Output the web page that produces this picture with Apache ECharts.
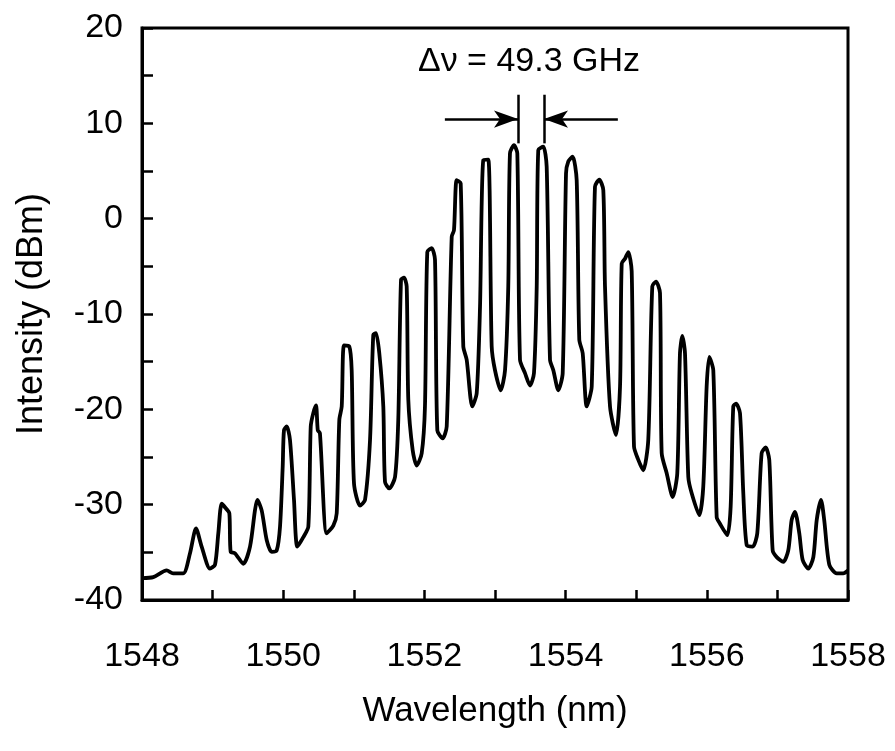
<!DOCTYPE html>
<html>
<head>
<meta charset="utf-8">
<script src="https://cdn.jsdelivr.net/npm/echarts@6/dist/echarts.min.js"></script>
<style>
html,body{margin:0;padding:0;background:#fff;}
#chart{width:895px;height:751px;}
</style>
</head>
<body>
<div id="chart"></div>
<script>
// Wavelength (nm)
const wavelength = [
1548.00,1548.16,1548.35,1548.44,1548.585,1548.68,1548.765,1548.845,1548.963,1549.034,
1549.081,1549.129,1549.19,1549.237,1549.256,1549.317,1549.435,1549.53,1549.60,1549.633,
1549.695,1549.766,1549.837,1549.908,1549.955,1549.993,1550.011,1550.05,1550.096,1550.153,
1550.20,1550.285,1550.356,1550.39,1550.426,1550.465,1550.49,1550.52,1550.616,1550.71,
1550.758,1550.795,1550.829,1550.861,1550.936,1550.97,1551.003,1551.088,1551.159,1551.23,
1551.276,1551.314,1551.361,1551.418,1551.442,1551.503,1551.584,1551.63,1551.669,1551.711,
1551.749,1551.772,1551.834,1551.891,1551.962,1552.008,1552.041,1552.103,1552.15,1552.183,
1552.259,1552.316,1552.387,1552.419,1552.457,1552.514,1552.551,1552.599,1552.678,1552.741,
1552.788,1552.834,1552.905,1552.953,1553.00,1553.081,1553.142,1553.188,1553.212,1553.269,
1553.316,1553.354,1553.425,1553.496,1553.552,1553.591,1553.613,1553.684,1553.732,1553.779,
1553.826,1553.897,1553.959,1554.006,1554.038,1554.10,1554.157,1554.194,1554.242,1554.299,
1554.37,1554.416,1554.477,1554.534,1554.558,1554.629,1554.714,1554.771,1554.795,1554.841,
1554.888,1554.936,1554.969,1555.03,1555.10,1555.171,1555.228,1555.28,1555.337,1555.361,
1555.432,1555.517,1555.582,1555.62,1555.653,1555.691,1555.738,1555.786,1555.894,1555.95,
1555.998,1556.035,1556.092,1556.14,1556.187,1556.29,1556.338,1556.375,1556.414,1556.47,
1556.517,1556.565,1556.65,1556.715,1556.777,1556.834,1556.885,1556.933,1556.99,1557.083,
1557.154,1557.202,1557.249,1557.31,1557.358,1557.438,1557.509,1557.557,1557.618,1557.663,
1557.735,1557.84,1557.933,1558.00
];
// Intensity (dBm)
const intensity = [
-37.7,-37.6,-36.9,-37.2,-37.2,-35.1,-32.5,-34.4,-36.7,-36.3,
-33.0,-29.9,-30.4,-30.9,-34.95,-35.1,-36.2,-34.4,-30.6,-29.5,
-30.6,-33.7,-34.95,-34.8,-32.3,-26.0,-22.2,-21.8,-23.2,-29.5,
-34.4,-33.4,-32.3,-21.8,-20.4,-19.6,-22.2,-22.5,-33.0,-32.2,
-30.9,-21.1,-19.7,-13.3,-13.4,-15.9,-27.8,-30.1,-29.5,-23.2,
-12.2,-12.0,-14.1,-19.7,-27.6,-28.3,-27.1,-21.1,-6.4,-6.2,
-7.1,-19.0,-24.3,-25.9,-24.6,-19.7,-3.5,-3.1,-4.3,-22.2,
-23.05,-21.8,-1.9,-1.2,4.05,3.7,-13.4,-14.8,-19.7,-18.3,
-9.2,6.15,6.2,-13.4,-15.9,-18.0,-15.9,-7.1,6.85,7.7,
6.85,-14.8,-16.2,-17.5,-16.2,-7.1,7.2,7.55,5.45,-14.8,
-15.9,-18.0,-16.2,4.75,6.0,6.5,4.05,-12.7,-14.1,-19.7,
-17.6,3.35,4.1,3.0,-7.1,-19.7,-22.7,-17.6,-4.7,-4.2,
-3.5,-5.5,-23.9,-25.3,-26.4,-23.2,-7.1,-6.6,-7.8,-24.6,
-26.7,-29.2,-26.7,-14.1,-12.3,-14.1,-27.1,-28.8,-31.1,-28.1,
-17.6,-14.5,-15.9,-31.3,-32.0,-33.2,-30.2,-19.7,-19.4,-20.4,
-28.8,-34.25,-34.4,-33.0,-24.6,-24.0,-25.3,-34.8,-35.5,-36.0,
-34.8,-31.6,-30.75,-33.0,-35.8,-36.7,-35.5,-31.6,-29.5,-31.6,
-36.3,-37.2,-37.2,-36.9
];
// Annotation: mode spacing markers
const markerX = [1553.326, 1553.694];
const markerY = [7.9, 13.0];
const arrowY = 10.45;
const arrowFrom = [1552.29, 1554.74];
const annotationText = 'Δν = 49.3 GHz';
const xTicks = [1548, 1550, 1552, 1554, 1556, 1558];
const yTicks = [-40, -30, -20, -10, 0, 10, 20];

const FONT = '"Liberation Sans", Arial, Helvetica, sans-serif';
const chart = echarts.init(document.getElementById('chart'));
const data = wavelength.map((w, i) => [w, intensity[i]]);

chart.setOption({
  animation: false,
  backgroundColor: '#fff',
  grid: { left: 142, right: 47, top: 28, bottom: 151, show: true, borderColor: '#000', borderWidth: 3 },
  xAxis: {
    type: 'value', min: 1548, max: 1558, interval: 1,
    name: 'Wavelength (nm)', nameLocation: 'middle', nameGap: 94,
    nameTextStyle: { fontFamily: FONT, fontSize: 35, color: '#000' },
    axisLine: { show: true, onZero: false, lineStyle: { color: '#000', width: 3 } },
    axisTick: { show: true, inside: true, length: 10, lineStyle: { color: '#000', width: 2.5 } },
    axisLabel: {
      margin: 40, fontFamily: FONT, fontSize: 34, color: '#000',
      formatter: v => xTicks.includes(Math.round(v)) ? String(Math.round(v)) : ''
    },
    splitLine: { show: false }
  },
  yAxis: {
    type: 'value', min: -40, max: 20, interval: 5,
    name: 'Intensity (dBm)', nameLocation: 'middle', nameGap: 92,
    nameTextStyle: { fontFamily: FONT, fontSize: 36, color: '#000' },
    axisLine: { show: true, onZero: false, lineStyle: { color: '#000', width: 3 } },
    axisTick: { show: true, inside: true, length: 11, lineStyle: { color: '#000', width: 2.5 } },
    axisLabel: {
      margin: 19, fontFamily: FONT, fontSize: 34, color: '#000',
      formatter: v => yTicks.includes(v) ? String(v) : ''
    },
    splitLine: { show: false }
  },
  series: [{
    type: 'line', data: data, showSymbol: false, smooth: 0.25,
    lineStyle: { color: '#000', width: 3.8 },
    markLine: {
      silent: true, animation: false,
      label: { show: false },
      lineStyle: { color: '#000', width: 2.5, type: 'solid' },
      data: [
        [{ coord: [markerX[0], markerY[0]], symbol: 'none' }, { coord: [markerX[0], markerY[1]], symbol: 'none' }],
        [{ coord: [markerX[1], markerY[0]], symbol: 'none' }, { coord: [markerX[1], markerY[1]], symbol: 'none' }],
        [{ coord: [arrowFrom[0], arrowY], symbol: 'none' }, { coord: [markerX[0], arrowY], symbol: 'arrow', symbolSize: [13, 24] }],
        [{ coord: [arrowFrom[1], arrowY], symbol: 'none' }, { coord: [markerX[1], arrowY], symbol: 'arrow', symbolSize: [13, 24] }]
      ]
    }
  }],
  graphic: [{
    type: 'text', x: 529, y: 62,
    style: { text: annotationText, font: '34px ' + FONT, fill: '#000', textAlign: 'center', textVerticalAlign: 'middle' }
  }]
});
</script>
</body>
</html>
